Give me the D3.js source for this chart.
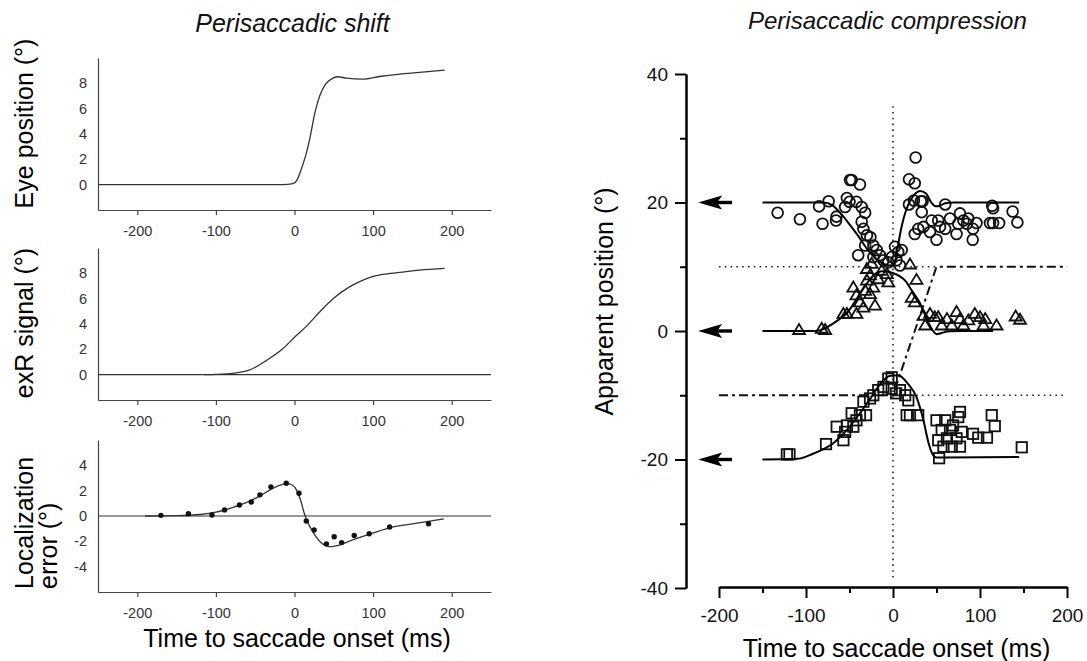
<!DOCTYPE html>
<html><head><meta charset="utf-8">
<script src="https://cdn.jsdelivr.net/npm/d3@7"></script>
<style>
body{margin:0;background:#fff}
text{font-family:"Liberation Sans",Arial,sans-serif}
</style>
</head><body>
<svg id="c" width="1087" height="661"></svg>
<script>
// ---------------- DATA ----------------
const leftTicksX = [-200, -100, 0, 100, 200];
const eyeTicks = [0, 2, 4, 6, 8];
const exrTicks = [0, 2, 4, 6, 8];
const errTicks = [-4, -2, 0, 2, 4];

const eyePosition = [[-250,0],[-15,0],[-2,0.08],[3.5,0.4],[8.5,1.2],[14,2.25],[20,3.8],[25.5,5.55],[32,7.0],[39.5,7.94],[49,8.41],[55,8.52],[66,8.41],[87,8.33],[108,8.54],[134,8.73],[159,8.86],[191,9.05]];
const exrSignal = [[-115,0],[-100,0.02],[-79,0.1],[-57,0.37],[-36,1.11],[-15,2.04],[0,2.96],[15,3.81],[32,4.95],[49,6.0],[70,6.93],[91,7.57],[112,7.91],[134,8.07],[159,8.25],[191,8.39]];
const errorFit = [[-190,0],[-150,0.03],[-120,0.12],[-100,0.3],[-80,0.65],[-60,1.1],[-45,1.55],[-30,2.1],[-20,2.4],[-10,2.55],[-3,2.45],[3,2.0],[8,1.2],[12,0.3],[16,-0.4],[21,-1.0],[27,-1.6],[33,-2.05],[40,-2.35],[47,-2.42],[55,-2.33],[70,-1.98],[90,-1.55],[120,-0.95],[150,-0.62],[190,-0.22]];
const errorData = [[-170,0.05],[-135,0.18],[-105,0.08],[-89,0.48],[-70,0.87],[-55,1.1],[-44,1.67],[-30,2.3],[-10.5,2.59],[5.7,1.8],[15,-0.4],[25,-1.11],[40.6,-2.2],[50.5,-1.64],[60,-2.1],[76,-1.53],[95,-1.4],[121,-0.87],[170.5,-0.61]];

const rightTicksX = [-200, -100, 0, 100, 200];
const rightMinorX = [-150, -50, 50, 150];
const rightTicksY = [-40, -20, 0, 20, 40];
const rightMinorY = [-30, -10, 10, 30];
const arrowTargets = [20, 0, -20];
const arrowSpan = [-224, -185];
const modelLine = [[-200,-10],[0,-10],[50,10],[200,10]];
const refDotsY10 = [[-200,10],[50,10]];
const refDotsYm10 = [[0,-10],[200,-10]];
const refDotsX0 = [[0,35],[0,-39]];

const circleFit = [[-150,20],[-80,20],[-70,19.6],[-60,18.3],[-50,16.6],[-40,14.8],[-30,12.8],[-20,11.3],[-10,10.4],[-2,10.2],[3,11.2],[6,13.5],[10,16.3],[15,18.8],[20,20.3],[25,21.3],[31,21.8],[38,21.4],[44,20.0],[49,19.4],[54,19.5],[60,19.9],[70,20],[145,20]];
const triangleFit = [[-150,0],[-90,0],[-80,0.3],[-69,1.15],[-60,2.0],[-53,2.8],[-45,4.3],[-38,5.8],[-30,7.4],[-22,8.7],[-12,9.3],[-2,9.1],[8,8.5],[15,7.7],[22,6.2],[30,4.6],[36,2.8],[41,1.2],[46,0.0],[50,-0.5],[56,-0.3],[65,-0.05],[80,0],[115,0]];
const squareFit = [[-150,-20],[-110,-19.9],[-92,-19.1],[-80,-18.4],[-69,-17.5],[-53,-15.4],[-38,-12.8],[-26,-10.5],[-15,-8.3],[-4,-7.0],[6,-6.9],[17,-8.2],[27,-10.3],[35,-13.9],[40.6,-17.3],[46,-19.3],[50,-19.7],[60,-19.7],[145,-19.6]];

const circles = [[-132.6,18.4],[-107,17.4],[-81,16.7],[-85,19.4],[-74,20.2],[-65.5,17.2],[-65,17.8],[-55,19.3],[-53,20.7],[-49.4,23.5],[-47.5,23.5],[-38,22.8],[-50,20.1],[-42,20.1],[-36,19.3],[-32,18.4],[-36,17.0],[-34,15.9],[-30,14.9],[-26,14.6],[-40,11.8],[-32,13.3],[-22.6,13.3],[-18.7,12.6],[-15,11.8],[-22.6,11.5],[-11,11.0],[-5.4,10.7],[2.3,13.1],[6,12.3],[10,12.6],[-1.5,11.5],[4,11.0],[8,10.2],[26,27.0],[18.4,23.6],[25,23.0],[18.4,19.7],[24,20.3],[32,20.2],[34,20.2],[33,18.5],[25,15.1],[29,15.9],[35,16.2],[42.5,15.4],[44.5,17.2],[50,14.2],[52,17.2],[54,16.2],[60,19.7],[60,15.9],[65.5,17.5],[73,15.1],[75,16.7],[77,18.3],[81,17.2],[85,16.7],[86.5,17.5],[91.6,14.2],[92,15.9],[96,16.8],[111.5,16.8],[115,16.8],[122,16.8],[114,19.5],[115,19.1],[137.5,18.6],[143,16.9]];
const triangles = [[-108,0.2],[-82,0.4],[-78,0.2],[-57,2.7],[-53,2.7],[-42,2.7],[-45.6,6.8],[-42,5.6],[-38,4.5],[-34,3.7],[-32,6.3],[-30,7.9],[-26.4,8.7],[-20.7,4.0],[-26.4,5.8],[-22.6,6.8],[-17,8.1],[-13,9.4],[-7,8.9],[-5.4,7.6],[-24.5,10.5],[-30,9.7],[19.5,10.4],[27,8.0],[21.5,5.2],[25,4.5],[35,2.4],[37,0.9],[42.5,2.7],[48,2.2],[52,2.2],[56,0.9],[62,1.9],[67.5,0.9],[73,3.0],[77,1.9],[81,0.9],[86.6,1.7],[94,2.7],[100,2.2],[104,0.9],[106,1.9],[119,0.9],[141,2.3],[146,1.8]];
const squares = [[-122,-19.2],[-119,-19.2],[-77,-17.6],[-64.7,-14.9],[-57,-17.0],[-55,-15.7],[-53,-14.7],[-47.5,-12.8],[-45.6,-14.9],[-42,-13.9],[-38,-13.1],[-31,-13.1],[-34,-11.0],[-26.4,-10.5],[-22.6,-10.0],[-17,-9.2],[-11,-8.7],[-5.4,-7.4],[-1.5,-7.2],[-1.5,-9.0],[3.5,-9.7],[8,-9.2],[14,-10.0],[17.6,-10.8],[15.7,-13.1],[19.5,-13.1],[29,-13.1],[50,-13.9],[52,-17.0],[53,-19.8],[56,-15.4],[58,-18.0],[60,-13.9],[62,-16.7],[65.5,-15.4],[67.5,-18.0],[69,-14.7],[73,-16.7],[75,-13.4],[77,-12.6],[77,-18.0],[79,-15.7],[92,-16.0],[98,-16.6],[108,-16.6],[113.5,-13.1],[117,-14.8],[148,-18.1]];

// ---------------- DRAW ----------------
const svg = d3.select("#c");
const FONT = '"Liberation Sans",Arial,sans-serif';
const fmt = d => String(d);

// Titles
svg.append("text").attr("x",292.5).attr("y",32).attr("text-anchor","middle")
  .style("font-size","25px").style("font-style","italic").attr("fill","#111").text("Perisaccadic shift");
svg.append("text").attr("x",748).attr("y",28.5).attr("text-anchor","start")
  .style("font-size","24px").style("font-style","italic").attr("fill","#111").text("Perisaccadic compression");

// Left panels
const xL = d3.scaleLinear().domain([-250,250]).range([98,491]);
const panels = [
  {top:58, bottom:210, dom:[-2,10], ticks:eyeTicks, zero:false},
  {top:248, bottom:400, dom:[-2,10], ticks:exrTicks, zero:true},
  {top:440, bottom:592, dom:[-6,6], ticks:errTicks, zero:true}
];
const lineL = (y) => d3.line().x(d=>xL(d[0])).y(d=>y(d[1])).curve(d3.curveMonotoneX);

panels.forEach((p,i)=>{
  const y = d3.scaleLinear().domain(p.dom).range([p.bottom,p.top]);
  p.y = y;
  const gx = svg.append("g").attr("transform",`translate(0,${p.bottom})`)
    .call(d3.axisBottom(xL).tickValues(leftTicksX).tickFormat(fmt).tickSize(5).tickSizeOuter(0).tickPadding(11));
  const gy = svg.append("g").attr("transform",`translate(${xL.range()[0]},0)`)
    .call(d3.axisLeft(y).tickValues(p.ticks).tickFormat(fmt).tickSize(0).tickSizeOuter(0).tickPadding(11));
  [gx,gy].forEach(g=>{
    g.select(".domain").attr("stroke","#444").attr("stroke-width",1.2);
    g.selectAll(".tick line").attr("stroke","#444").attr("stroke-width",1.2);
    g.selectAll(".tick text").attr("fill","#333").style("font-size","14.5px").style("font-family",FONT);
  });
  if(p.zero){
    svg.append("line").attr("x1",xL.range()[0]).attr("x2",xL.range()[1])
      .attr("y1",y(0)).attr("y2",y(0)).attr("stroke","#333").attr("stroke-width",1.2);
  }
});

svg.append("path").datum(eyePosition).attr("d",lineL(panels[0].y))
  .attr("fill","none").attr("stroke","#333").attr("stroke-width",1.3);
svg.append("path").datum(exrSignal).attr("d",lineL(panels[1].y))
  .attr("fill","none").attr("stroke","#333").attr("stroke-width",1.3);
svg.append("path").datum(errorFit).attr("d",lineL(panels[2].y))
  .attr("fill","none").attr("stroke","#333").attr("stroke-width",1.3);
svg.append("g").selectAll("circle").data(errorData).join("circle")
  .attr("cx",d=>xL(d[0])).attr("cy",d=>panels[2].y(d[1])).attr("r",2.7).attr("fill","#111");

// Left labels
svg.append("text").attr("transform","translate(33,123.5) rotate(-90)").attr("text-anchor","middle")
  .style("font-size","25px").attr("fill","#000").text("Eye position (°)");
svg.append("text").attr("transform","translate(33,323) rotate(-90)").attr("text-anchor","middle")
  .style("font-size","25px").attr("fill","#000").text("exR signal (°)");
svg.append("text").attr("transform","translate(33,589) rotate(-90)").attr("text-anchor","start")
  .style("font-size","25px").attr("fill","#000").text("Localization");
svg.append("text").attr("transform","translate(57,589) rotate(-90)").attr("text-anchor","start")
  .style("font-size","25px").attr("fill","#000").text("error (°)");
svg.append("text").attr("x",297).attr("y",647).attr("text-anchor","middle")
  .style("font-size","25px").attr("fill","#000").text("Time to saccade onset (ms)");

// Right panel
const xR = d3.scaleLinear().domain([-200,200]).range([719,1067]);
const yR = d3.scaleLinear().domain([-40,40]).range([588,74]);
const yAxisX = 686, xAxisY = 587;

const gyR = svg.append("g").attr("transform",`translate(${yAxisX},0)`)
  .call(d3.axisLeft(yR).tickValues(rightTicksY).tickFormat(fmt).tickSize(11).tickSizeOuter(0).tickPadding(7));
const gyR2 = svg.append("g").attr("transform",`translate(${yAxisX},0)`)
  .call(d3.axisLeft(yR).tickValues(rightMinorY).tickSize(6).tickSizeOuter(0).tickFormat(""));
const gxR = svg.append("g").attr("transform",`translate(0,${xAxisY})`)
  .call(d3.axisBottom(xR).tickValues(rightTicksX).tickFormat(fmt).tickSize(11).tickSizeOuter(0).tickPadding(11));
const gxR2 = svg.append("g").attr("transform",`translate(0,${xAxisY})`)
  .call(d3.axisBottom(xR).tickValues(rightMinorX).tickSize(6).tickSizeOuter(0).tickFormat(""));
[gyR,gyR2,gxR,gxR2].forEach(g=>{
  g.select(".domain").attr("stroke","#000").attr("stroke-width",2);
  g.selectAll(".tick line").attr("stroke","#000").attr("stroke-width",2);
  g.selectAll(".tick text").attr("fill","#111").style("font-size","19px").style("font-family",FONT);
});

const lineR = d3.line().x(d=>xR(d[0])).y(d=>yR(d[1]));
[refDotsY10, refDotsYm10, refDotsX0].forEach(seg=>{
  svg.append("path").datum(seg).attr("d",lineR).attr("fill","none").attr("stroke","#222")
    .attr("stroke-width",1.6).attr("stroke-dasharray","1.6,4.2");
});
svg.append("path").datum(modelLine).attr("d",lineR).attr("fill","none").attr("stroke","#111")
  .attr("stroke-width",2).attr("stroke-dasharray","9,4,3,4");

// markers
const mk = svg.append("g").attr("fill","none").attr("stroke","#111").attr("stroke-width",1.8);
mk.selectAll("circle").data(circles).join("circle")
  .attr("cx",d=>xR(d[0])).attr("cy",d=>yR(d[1])).attr("r",5.4);
mk.selectAll("path.tri").data(triangles).join("path").attr("class","tri")
  .attr("d",d=>{const x=xR(d[0]),y=yR(d[1]);return `M${x-6},${y+4.3}L${x+6},${y+4.3}L${x},${y-5.7}Z`;});
mk.selectAll("rect").data(squares).join("rect")
  .attr("x",d=>xR(d[0])-5.2).attr("y",d=>yR(d[1])-5.2).attr("width",10.4).attr("height",10.4);

// fits
const fitLine = d3.line().x(d=>xR(d[0])).y(d=>yR(d[1])).curve(d3.curveMonotoneX);
[circleFit, triangleFit, squareFit].forEach(f=>{
  svg.append("path").datum(f).attr("d",fitLine).attr("fill","none").attr("stroke","#000").attr("stroke-width",2);
});

// arrows
arrowTargets.forEach(v=>{
  const y = yR(v), tip = xR(arrowSpan[0]), tail = xR(arrowSpan[1]);
  svg.append("line").attr("x1",tip+14).attr("x2",tail).attr("y1",y).attr("y2",y)
    .attr("stroke","#000").attr("stroke-width",3.4);
  svg.append("path").attr("d",`M${tip},${y}L${tip+24},${y-7}L${tip+19},${y}L${tip+24},${y+7}Z`).attr("fill","#000");
});

// right labels
svg.append("text").attr("transform","translate(613,301.5) rotate(-90)").attr("text-anchor","middle")
  .style("font-size","25px").attr("fill","#000").text("Apparent position (°)");
svg.append("text").attr("x",896.5).attr("y",657).attr("text-anchor","middle")
  .style("font-size","25px").attr("fill","#000").text("Time to saccade onset (ms)");
</script>
</body></html>
